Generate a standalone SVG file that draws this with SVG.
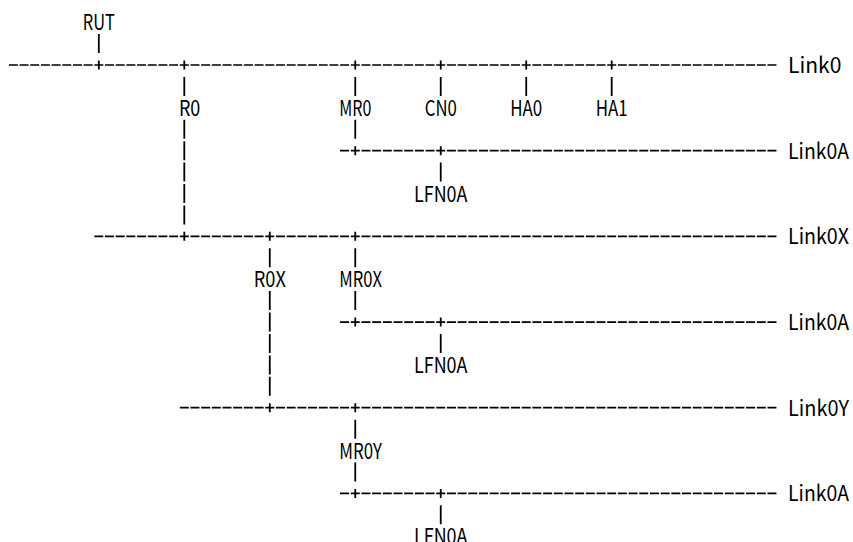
<svg xmlns="http://www.w3.org/2000/svg" width="853" height="542" viewBox="0 0 853 542">
<style>
  .bg { fill: #ffffff; }
  .lbl { font-family: "Noto Sans CJK JP", "Liberation Sans", sans-serif; font-size: 21.5px; fill: #000; }
  .hline { stroke: #000; stroke-width: 1.7; stroke-dasharray: 9 1.685; fill: none; }
  .vbar { stroke: #000; stroke-width: 1.8; fill: none; }
</style>
<rect class="bg" x="0" y="0" width="853" height="542"/>
<g id="connectors">
  <line class="hline" x1="8.84" y1="65" x2="776.48" y2="65"/>
  <line class="hline" x1="340.08" y1="150.68" x2="776.48" y2="150.68"/>
  <line class="hline" x1="94.32" y1="236.36" x2="776.48" y2="236.36"/>
  <line class="hline" x1="340.08" y1="322.04" x2="776.48" y2="322.04"/>
  <line class="hline" x1="179.80" y1="407.72" x2="776.48" y2="407.72"/>
  <line class="hline" x1="340.08" y1="493.4" x2="776.48" y2="493.4"/>
  <path class="vbar" d="M98.82 60.5V69.5 M184.30 60.5V69.5 M355.26 60.5V69.5 M440.74 60.5V69.5 M526.22 60.5V69.5 M611.70 60.5V69.5
    M355.26 146.18V155.18 M440.74 146.18V155.18
    M184.30 231.86V240.86 M269.78 231.86V240.86 M355.26 231.86V240.86
    M355.26 317.54V326.54 M440.74 317.54V326.54
    M269.78 403.22V412.22 M355.26 403.22V412.22
    M355.26 488.9V497.9 M440.74 488.9V497.9"/>
  <path class="vbar" d="M98.82 34.08V53.08
    M184.30 76.92V95.92 M355.26 76.92V95.92 M440.74 76.92V95.92 M526.22 76.92V95.92 M611.70 76.92V95.92
    M184.30 119.76V138.76 M355.26 119.76V138.76
    M184.30 141.18V160.18
    M184.30 162.60V181.60 M440.74 162.60V181.60
    M184.30 184.02V203.02
    M184.30 205.44V224.44
    M269.78 248.28V267.28 M355.26 248.28V267.28
    M269.78 291.12V310.12 M355.26 291.12V310.12
    M269.78 312.54V331.54
    M269.78 333.96V352.96 M440.74 333.96V352.96
    M269.78 355.38V374.38
    M269.78 376.80V395.80
    M355.26 419.64V438.64
    M355.26 462.48V481.48
    M440.74 505.32V524.32"/>
</g>
<g id="RUT"><text class="lbl" x="82.8" y="30.16" textLength="32.06" lengthAdjust="spacingAndGlyphs">RUT</text></g>
<g id="Link0"><text class="lbl" x="788" y="73" textLength="53.43" lengthAdjust="spacingAndGlyphs">Link0</text></g>
<g id="R0"><text class="lbl" x="178.96" y="115.84" textLength="21.37" lengthAdjust="spacingAndGlyphs">R0</text></g>
<g id="MR0"><text class="lbl" x="339.24" y="115.84" textLength="32.06" lengthAdjust="spacingAndGlyphs">MR0</text></g>
<g id="CN0"><text class="lbl" x="424.72" y="115.84" textLength="32.06" lengthAdjust="spacingAndGlyphs">CN0</text></g>
<g id="HA0"><text class="lbl" x="510.2" y="115.84" textLength="32.06" lengthAdjust="spacingAndGlyphs">HA0</text></g>
<g id="HA1"><text class="lbl" x="595.68" y="115.84" textLength="32.06" lengthAdjust="spacingAndGlyphs">HA1</text></g>
<g id="Link0A-1"><text class="lbl" x="788" y="158.68" textLength="61" lengthAdjust="spacingAndGlyphs">Link0A</text></g>
<g id="LFN0A-1"><text class="lbl" x="414.03" y="201.52" textLength="53.43" lengthAdjust="spacingAndGlyphs">LFN0A</text></g>
<g id="Link0X"><text class="lbl" x="788" y="244.36" textLength="61" lengthAdjust="spacingAndGlyphs">Link0X</text></g>
<g id="R0X"><text class="lbl" x="253.76" y="287.2" textLength="32.06" lengthAdjust="spacingAndGlyphs">R0X</text></g>
<g id="MR0X"><text class="lbl" x="339.24" y="287.2" textLength="42.74" lengthAdjust="spacingAndGlyphs">MR0X</text></g>
<g id="Link0A-2"><text class="lbl" x="788" y="330.04" textLength="61" lengthAdjust="spacingAndGlyphs">Link0A</text></g>
<g id="LFN0A-2"><text class="lbl" x="414.03" y="372.88" textLength="53.43" lengthAdjust="spacingAndGlyphs">LFN0A</text></g>
<g id="Link0Y"><text class="lbl" x="788" y="415.72" textLength="61" lengthAdjust="spacingAndGlyphs">Link0Y</text></g>
<g id="MR0Y"><text class="lbl" x="339.24" y="458.56" textLength="42.74" lengthAdjust="spacingAndGlyphs">MR0Y</text></g>
<g id="Link0A-3"><text class="lbl" x="788" y="501.4" textLength="61" lengthAdjust="spacingAndGlyphs">Link0A</text></g>
<g id="LFN0A-3"><text class="lbl" x="414.03" y="544.24" textLength="53.43" lengthAdjust="spacingAndGlyphs">LFN0A</text></g>
</svg>
